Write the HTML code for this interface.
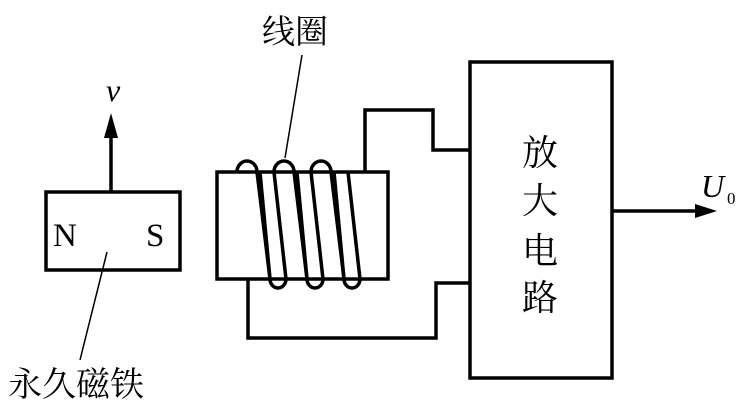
<!DOCTYPE html>
<html><head><meta charset="utf-8"><style>
html,body{margin:0;padding:0;background:#fff;}
svg{display:block;}
</style></head><body>
<svg width="745" height="408" viewBox="0 0 745 408" xmlns="http://www.w3.org/2000/svg">
<g fill="none" stroke="#000" stroke-width="3.5">
<rect x="46" y="192" width="134" height="78"/>
<rect x="217" y="172" width="171" height="107" fill="#fff"/>
<rect x="470" y="62" width="142" height="316"/>
<polyline points="365,172 365,110 433,110 433,150 470,150"/>
<polyline points="248,279 248,338 436,338 436,283 470,283"/>
<line x1="612" y1="211" x2="695" y2="211"/>
<line x1="111" y1="192" x2="111" y2="135"/>
</g>
<g fill="none" stroke="#000" stroke-width="3.5">
<path d="M237,172 A10,11 0 0 1 257,172 L270,279"/>
<path d="M274,172 A10,11 0 0 1 294,172 L307,279"/>
<path d="M311,172 A10,11 0 0 1 331,172 L344,279"/>
<path d="M260,172 L270,279 A8,9 0 0 0 286,279 L274,172"/>
<path d="M297,172 L307,279 A8,9 0 0 0 323,279 L311,172"/>
<path d="M334,172 L344,279 A8,9 0 0 0 360,279 L348,172"/>
</g>
<polygon points="695,204 717,211 695,218" fill="#000"/>
<polygon points="104,138 111,113 118,138" fill="#000"/>
<g stroke="#000" stroke-width="1.5">
<line x1="302" y1="55" x2="285" y2="158"/>
<line x1="107" y1="252" x2="80" y2="360"/>
</g>
<g font-family="Liberation Serif, 'Noto Serif CJK SC', serif" fill="#000">
<text x="53" y="246" font-size="33">N</text>
<text x="146" y="246" font-size="33">S</text>
<text x="106" y="101" font-size="32" font-style="italic">v</text>
<text x="701" y="197" font-size="32" font-style="italic">U</text>
<text x="727" y="204" font-size="17">0</text>
<text x="262" y="43" font-size="33">线圈</text>
<text x="8" y="396" font-size="34">永久磁铁</text>
<g font-size="36" text-anchor="middle">
<text x="540" y="165">放</text>
<text x="540" y="213">大</text>
<text x="540" y="263">电</text>
<text x="540" y="310">路</text>
</g>
</g>
</svg>
</body></html>
